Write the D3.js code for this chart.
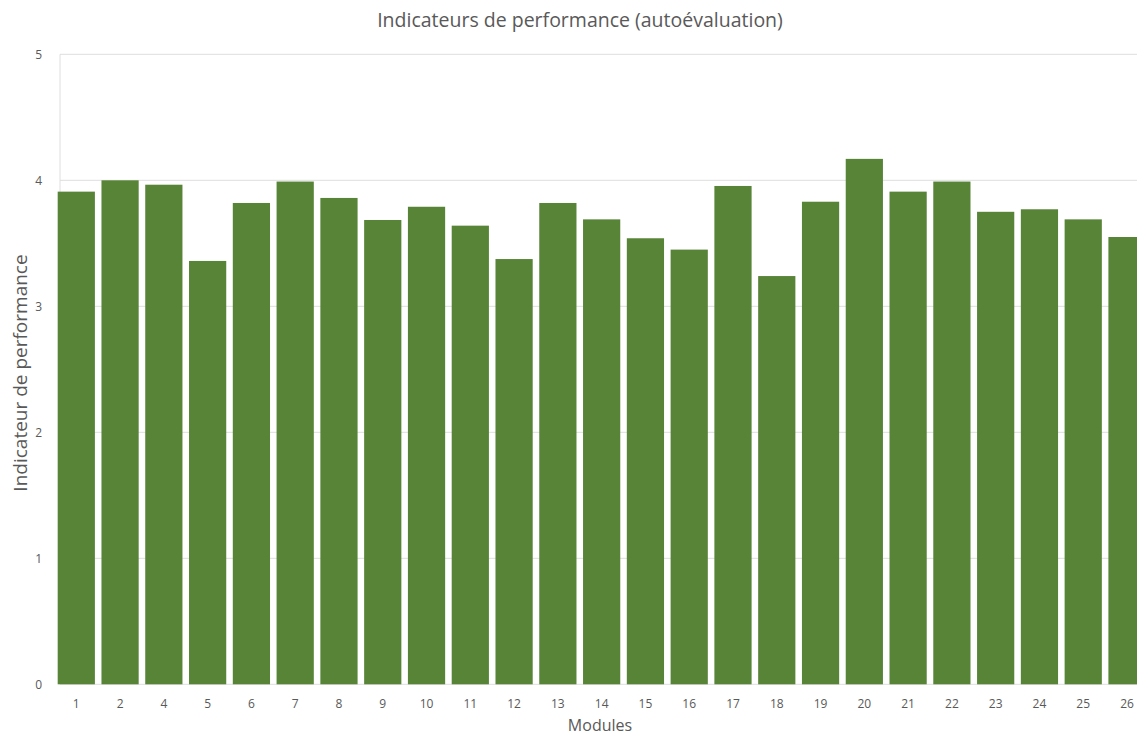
<!DOCTYPE html>
<html>
<head>
<meta charset="utf-8">
<script src="https://cdn.jsdelivr.net/npm/d3@7"></script>
<style>
  html, body { margin: 0; padding: 0; background: #fff; }
  svg { display: block; }
  text { font-family: "Open Sans", "Liberation Sans", sans-serif; fill: #595959; }
</style>
</head>
<body>
<svg id="chart" width="1137" height="735"></svg>
<script>
// Modules (module 3 is not reported)
const modules = ["1","2","4","5","6","7","8","9","10","11","12","13","14","15","16","17","18","19","20","21","22","23","24","25","26"];
// Self-assessed performance indicator per module
const scores = [3.91, 4.00, 3.965, 3.36, 3.82, 3.99, 3.86, 3.685, 3.79, 3.64, 3.375, 3.82, 3.69,
                3.54, 3.45, 3.955, 3.24, 3.83, 4.17, 3.91, 3.99, 3.75, 3.77, 3.69, 3.55];
const yTicks = [0, 1, 2, 3, 4, 5];

const titleText = "Indicateurs de performance (autoévaluation)";
const xTitle = "Modules";
const yTitle = "Indicateur de performance";

const W = 1137, H = 735;
const svg = d3.select("#chart");

const x = d3.scaleBand()
  .domain(modules)
  .range([54.4, 1148.9])
  .paddingInner(0.15)
  .paddingOuter(0.075);

const y = d3.scaleLinear()
  .domain([0, 5])
  .range([684.3, 54.3]);

// Horizontal gridlines
svg.append("g")
  .selectAll("line")
  .data(yTicks)
  .join("line")
  .attr("x1", 60).attr("x2", W)
  .attr("y1", d => y(d)).attr("y2", d => y(d))
  .attr("stroke", "#dedede")
  .attr("stroke-width", 1);

// Left axis line
svg.append("line")
  .attr("x1", 60).attr("x2", 60)
  .attr("y1", y(5)).attr("y2", y(0))
  .attr("stroke", "#dedede");

// Bars
svg.append("g")
  .selectAll("rect")
  .data(modules.map((m, i) => ({ m, v: scores[i] })))
  .join("rect")
  .attr("x", d => x(d.m))
  .attr("width", x.bandwidth())
  .attr("y", d => y(d.v))
  .attr("height", d => y(0) - y(d.v))
  .attr("fill", "#578437");

// Y tick labels
const yAxis = d3.axisLeft(y).tickValues(yTicks).tickSize(0).tickPadding(0).tickFormat(d3.format("d"));
const gy = svg.append("g").attr("transform", "translate(42,0)").call(yAxis);
gy.select(".domain").remove();
gy.selectAll("text").attr("font-size", 12).style("fill", "#595959")
  .style("font-family", "'Open Sans', 'Liberation Sans', sans-serif");

// X tick labels
const xAxis = d3.axisBottom(x).tickSize(0).tickPadding(0);
const gx = svg.append("g").attr("transform", "translate(0,699)").call(xAxis);
gx.select(".domain").remove();
gx.selectAll("text").attr("font-size", 12).style("fill", "#595959")
  .style("font-family", "'Open Sans', 'Liberation Sans', sans-serif");

// Titles
svg.append("text")
  .attr("x", 580).attr("y", 27)
  .attr("text-anchor", "middle")
  .attr("font-size", 19.5)
  .text(titleText);

svg.append("text")
  .attr("x", 600).attr("y", 731)
  .attr("text-anchor", "middle")
  .attr("font-size", 16)
  .text(xTitle);

svg.append("text")
  .attr("transform", "translate(27,373) rotate(-90)")
  .attr("text-anchor", "middle")
  .attr("font-size", 19)
  .text(yTitle);
</script>
</body>
</html>
